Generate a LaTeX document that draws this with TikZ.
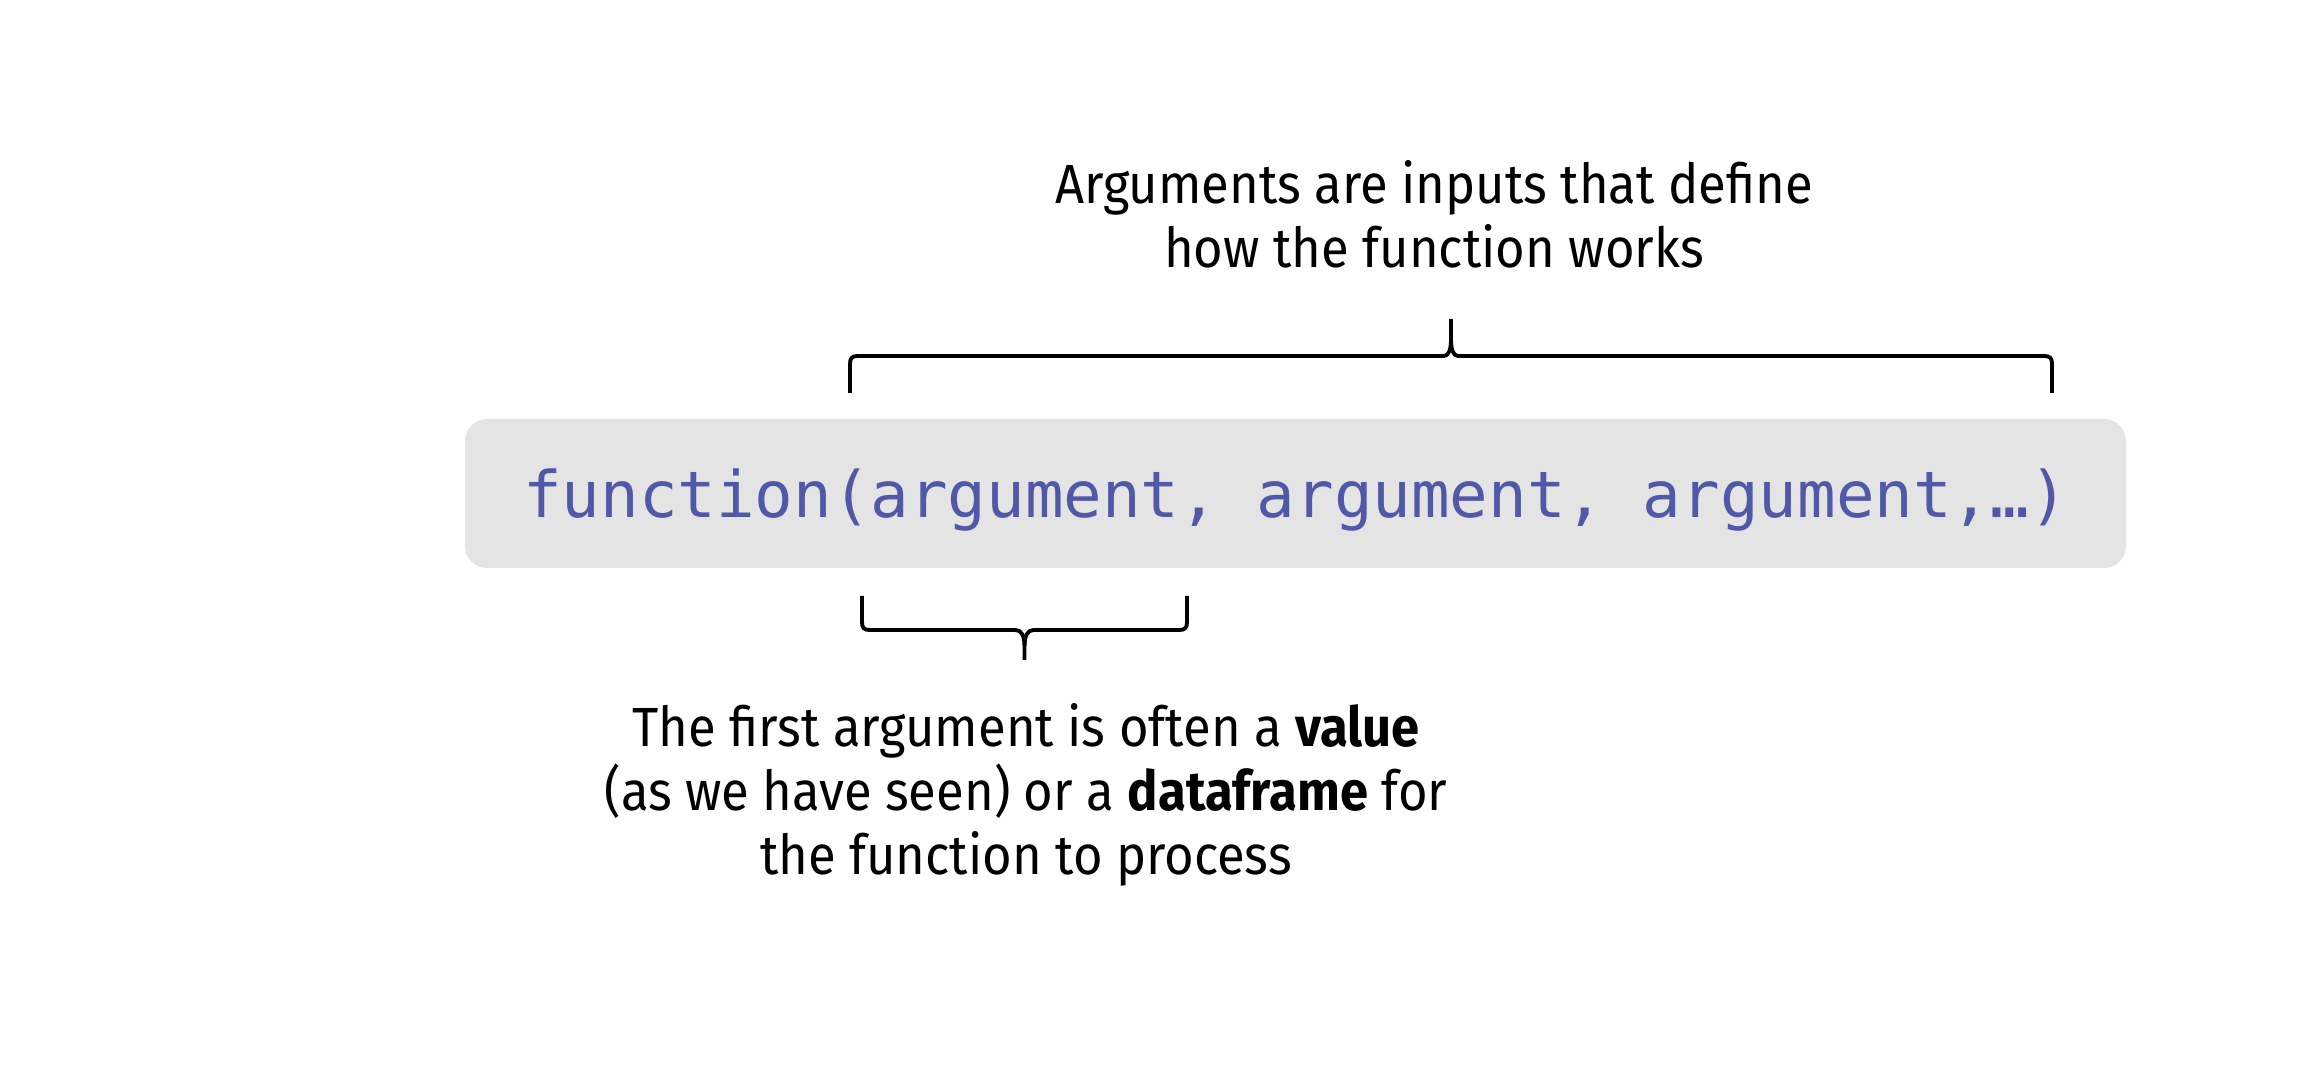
\documentclass[tikz,border=0pt]{standalone}
\usepackage{fontspec}
\setmainfont{Fira Sans}[FakeStretch=0.92]
\newfontfamily\codefont{DejaVu Sans Mono}
\usetikzlibrary{positioning,calc}

\definecolor{codeblue}{RGB}{80,89,168}
\definecolor{codegray}{RGB}{228,228,228}

\begin{document}
\begin{tikzpicture}[
    x=1cm, y=1cm,
    nota/.style={align=center, inner sep=0pt, font=\fontsize{15.7}{18.2}\selectfont},
    codice/.style={fill=codegray, rounded corners=0.22cm, inner sep=0pt,
      minimum width=16.61cm, minimum height=1.49cm,
      text height=0.60cm, text depth=0.11cm,
      text=codeblue, font=\codefont\fontsize{18.25}{20}\selectfont},
    graffa/.style={black, line width=1.1pt, line join=round},
  ]
  \useasboundingbox (0,0) rectangle (23.15,-10.92);

  % --- the call, on its grey band ---------------------------------------
  \node[codice] (code) at (12.955,-4.935)
    {function(argument, argument, argument,…)};

  % --- brace over all the arguments -----------------------------------
  \coordinate (argsL) at (8.50,-3.93);
  \coordinate (argsR) at (20.52,-3.93);
  \coordinate (argsT) at (14.51,-3.19);
  \draw[graffa] (argsL) -- ++(0,0.29) .. controls ++(0,0.06) and ++(-0.06,0) .. ++(0.08,0.08)
    -- ($(argsT)+(-0.07,-0.37)$) .. controls ++(0.05,0) and ++(0,-0.10) .. ($(argsT)+(0,-0.2)$)
    -- (argsT);
  \draw[graffa] (argsR) -- ++(0,0.29) .. controls ++(0,0.06) and ++(0.06,0) .. ++(-0.08,0.08)
    -- ($(argsT)+(0.07,-0.37)$) .. controls ++(-0.05,0) and ++(0,-0.10) .. ($(argsT)+(0,-0.2)$);

  \node[nota, anchor=north] (argsnote) at (14.34,-1.60)
    {Arguments are inputs that define\\how the function works};

  % --- brace under the first argument ---------------------------------
  \coordinate (firstL) at (8.62,-5.96);
  \coordinate (firstR) at (11.87,-5.96);
  \coordinate (firstT) at (10.245,-6.60);
  \draw[graffa] (firstL) -- ++(0,-0.26) .. controls ++(0,-0.06) and ++(-0.06,0) .. ++(0.08,-0.08)
    -- ($(firstT)+(-0.09,0.30)$) .. controls ++(0.06,0) and ++(0,0.10) .. ($(firstT)+(0,0.14)$)
    -- (firstT);
  \draw[graffa] (firstR) -- ++(0,-0.26) .. controls ++(0,-0.06) and ++(0.06,0) .. ++(-0.08,-0.08)
    -- ($(firstT)+(0.09,0.30)$) .. controls ++(-0.06,0) and ++(0,0.10) .. ($(firstT)+(0,0.14)$);

  \node[nota, anchor=north] (firstnote) at (10.26,-7.03)
    {The first argument is often a \textbf{value}\\(as we have seen) or a \textbf{dataframe} for\\the function to process};

\end{tikzpicture}
\end{document}
